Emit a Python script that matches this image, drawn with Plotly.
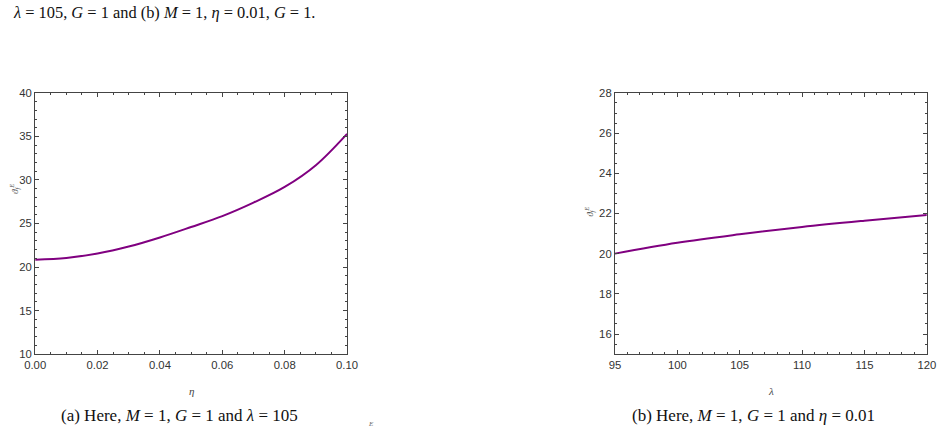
import plotly.graph_objects as go

# Panel (a): theta_f^E vs eta  (M=1, G=1, lambda=105)
eta = [0.00, 0.01, 0.02, 0.03, 0.04, 0.05, 0.06, 0.07, 0.08, 0.09, 0.10]
theta_a = [20.85, 21.05, 21.55, 22.35, 23.4, 24.6, 25.85, 27.4, 29.2, 31.7, 35.3]

# Panel (b): theta_f^E vs lambda  (M=1, G=1, eta=0.01)
lam = [95, 100, 105, 110, 115, 120]
theta_b = [20.0, 20.54, 20.96, 21.33, 21.64, 21.92]

line_color = "#800080"
frame_color = "#444444"
tick_font = dict(family="Liberation Sans Narrow, Liberation Sans", size=11.3, color="#333333")
serif = "Liberation Serif"

fig = go.Figure()
fig.add_trace(go.Scatter(x=eta, y=theta_a, mode="lines", line=dict(color=line_color, width=2, shape="spline"),
                         xaxis="x", yaxis="y", showlegend=False, hoverinfo="skip"))
fig.add_trace(go.Scatter(x=lam, y=theta_b, mode="lines", line=dict(color=line_color, width=2, shape="spline"),
                         xaxis="x2", yaxis="y2", showlegend=False, hoverinfo="skip"))

W, H = 940, 445
SX, SY = 0.977, 0.965  # observed render compression about the centre


def qx(px):
    return (W / 2 + (px - W / 2) / SX) / W


def qy(py):
    return 1 - (H / 2 + (py - H / 2) / SY) / H


common = dict(showgrid=False, zeroline=False, showline=True, linecolor=frame_color, linewidth=1,
              mirror="allticks", ticks="inside", ticklen=4, tickcolor=frame_color, tickwidth=1,
              tickfont=tick_font)

fig.update_layout(
    width=W, height=H, margin=dict(l=0, r=0, t=0, b=0),
    plot_bgcolor="white", paper_bgcolor="white",
    xaxis=dict(domain=[qx(35), qx(347)], range=[0, 0.1], dtick=0.02, tick0=0, tickformat=".2f",
               anchor="y", minor=dict(ticks="inside", dtick=0.005, ticklen=2, tickcolor=frame_color),
               **common),
    yaxis=dict(domain=[qy(353), qy(94)], range=[10, 40], dtick=5, tick0=10, anchor="x",
               minor=dict(ticks="inside", dtick=1, ticklen=2, tickcolor=frame_color), **common),
    xaxis2=dict(domain=[qx(615), qx(927)], range=[95, 120], dtick=5, tick0=95, anchor="y2",
                minor=dict(ticks="inside", dtick=1, ticklen=2, tickcolor=frame_color), **common),
    yaxis2=dict(domain=[qy(353), qy(94)], range=[15, 28], dtick=2, tick0=16, anchor="x2",
                minor=dict(ticks="inside", dtick=0.5, ticklen=2, tickcolor=frame_color), **common),
)


def note(x, y, text, size, color="#111111", angle=0, xanchor="center"):
    return dict(x=x, y=y, xref="paper", yref="paper", showarrow=False,
                xanchor=xanchor, yanchor="middle", text=text, textangle=angle,
                font=dict(family=serif, size=size, color=color))


ylab = "<i>ϑ<sub>f</sub><sup>E</sup></i>"
ann = []
# y-axis labels
ann.append(note(qx(15), qy(189), ylab, 9, "#444444", -90))
ann.append(note(qx(590), qy(212), ylab, 9, "#444444", -90))
# x-axis labels
ann.append(note(qx(191), qy(390), "<i>η</i>", 11, "#444444"))
ann.append(note(qx(771), qy(390), "<i>λ</i>", 11, "#444444"))
# captions
ann.append(note(qx(179), qy(414), "(a) Here, <i>M</i> = 1, <i>G</i> = 1 and <i>λ</i> = 105", 17))
ann.append(note(qx(754), qy(414), "(b) Here, <i>M</i> = 1, <i>G</i> = 1 and <i>η</i> = 0.01", 17))
# top text
ann.append(note(0, 1 - 7 / H, "<i>λ</i> = 105, <i>G</i> = 1 and (b) <i>M</i> = 1, <i>η</i> = 0.01, <i>G</i> = 1.",
                16.4, xanchor="left"))
# small fragment superscript at bottom
ann.append(note(qx(371), qy(422), "<i>E</i>", 7, "#666666"))
fig.update_layout(annotations=ann)

fig.write_html("out.html")
